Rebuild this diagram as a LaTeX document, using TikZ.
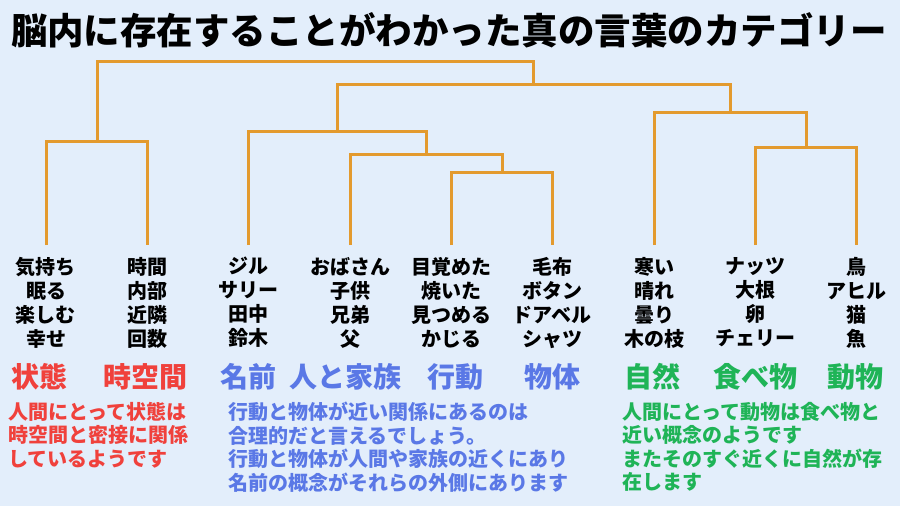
\documentclass[tikz,border=0pt]{standalone}
\usepackage{fontspec}
\setmainfont{Noto Sans CJK JP}
\definecolor{bg}{HTML}{E3EEFB}
\definecolor{branch}{HTML}{E39A2E}
\definecolor{catred}{HTML}{F0413C}
\definecolor{catblue}{HTML}{5A78E6}
\definecolor{catgreen}{HTML}{1FB457}
\begin{document}
\begin{tikzpicture}[x=1pt,y=-1pt,
  link/.style={draw=branch,line width=3pt},
  word/.style={anchor=north,inner sep=0pt,outer ysep=12pt,align=center,
    font=\bfseries\fontsize{20}{24}\selectfont},
  cat/.style={inner sep=0pt,font=\bfseries\fontsize{28}{28}\selectfont},
  note/.style={anchor=north west,inner sep=0pt,align=left,
    font=\bfseries\fontsize{20}{23.5}\selectfont}]
  \fill[bg] (0,0) rectangle (900,506);
  \useasboundingbox (0,0) rectangle (900,506);
  \node[inner sep=0pt,font=\bfseries\fontsize{36.5}{36}\selectfont] (title) at (449,30)
    {脳内に存在することがわかった真の言葉のカテゴリー};
  % leaves
  \node[word] (w1) at (46,245) {気持ち\\眠る\\楽しむ\\幸せ};
  \node[word] (w2) at (147,245) {時間\\内部\\近隣\\回数};
  \node[word] (w3) at (248,245) {ジル\\サリー\\田中\\鈴木};
  \node[word] (w4) at (350,245) {おばさん\\子供\\兄弟\\父};
  \node[word] (w5) at (451,245) {目覚めた\\焼いた\\見つめる\\かじる};
  \node[word] (w6) at (552,245) {毛布\\ボタン\\ドアベル\\シャツ};
  \node[word] (w7) at (654,245) {寒い\\晴れ\\曇り\\木の枝};
  \node[word] (w8) at (755,245) {ナッツ\\大根\\卵\\チェリー};
  \node[word] (w9) at (856,245) {鳥\\アヒル\\猫\\魚};
  % categories
  \begin{scope}[every node/.style={cat}]
  \node[text=catred] (c1) at (40,377) {状態};
  \node[text=catred] (c2) at (145,377) {時空間};
  \node[text=catblue] (c3) at (248,377) {名前};
  \node[text=catblue] (c4) at (345,377) {人と家族};
  \node[text=catblue] (c5) at (455,377) {行動};
  \node[text=catblue] (c6) at (552,377) {物体};
  \node[text=catgreen] (c7) at (652,377) {自然};
  \node[text=catgreen] (c8) at (755,377) {食べ物};
  \node[text=catgreen] (c9) at (855,377) {動物};
  \end{scope}
  % notes
  \node[note,text=catred] (n1) at (8,402) {人間にとって状態は\\時空間と密接に関係\\しているようです};
  \node[note,text=catblue] (n2) at (228,402) {行動と物体が近い関係にあるのは\\合理的だと言えるでしょう。\\行動と物体が人間や家族の近くにあり\\名前の概念がそれらの外側にあります};
  \node[note,text=catgreen] (n3) at (622,402) {人間にとって動物は食べ物と\\近い概念のようです\\またそのすぐ近くに自然が存\\在します};
  % merge points
  \coordinate (m1) at (97,141);
  \coordinate (m2) at (502,172);
  \coordinate (m3) at (426,154);
  \coordinate (m4) at (337,131);
  \coordinate (m5) at (806,147);
  \coordinate (m6) at (730,112);
  \coordinate (m7) at (533.5,84);
  \coordinate (root) at (315,61);
  % dendrogram
  \draw[link] (w1.north) |- (m1) -| (w2.north);
  \draw[link] (w5.north) |- (m2) -| (w6.north);
  \draw[link] (w4.north) |- (m3) -| (m2);
  \draw[link] (w3.north) |- (m4) -| (m3);
  \draw[link] (w8.north) |- (m5) -| (w9.north);
  \draw[link] (w7.north) |- (m6) -| (m5);
  \draw[link] (m4) |- (m7) -| (m6);
  \draw[link] (m1) |- (root) -| (m7);
\end{tikzpicture}
\end{document}
